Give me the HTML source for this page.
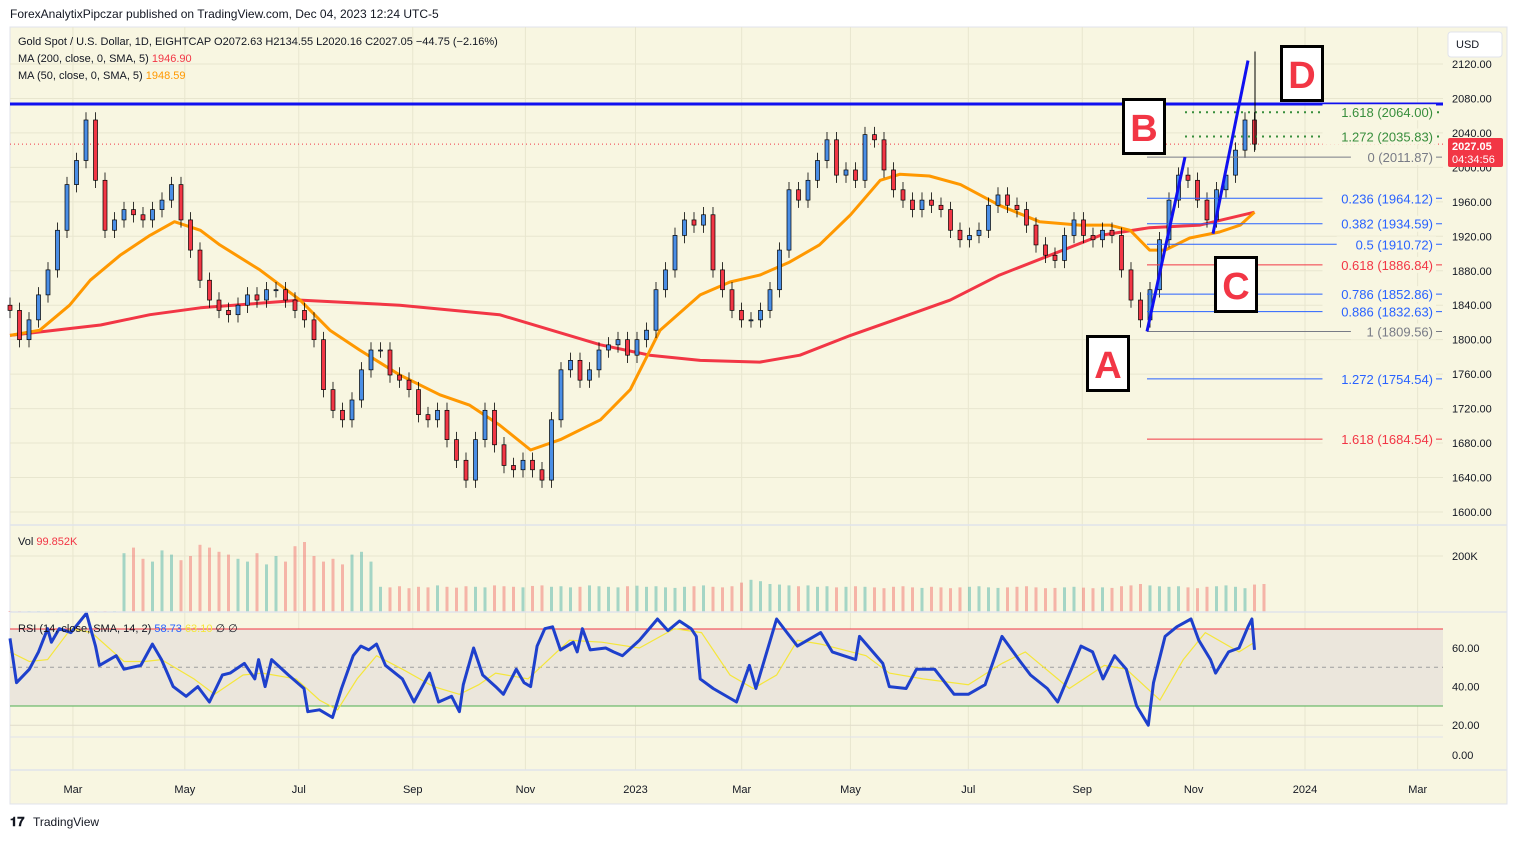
<!DOCTYPE html>
<html><head><meta charset="utf-8"><title>Gold Spot / U.S. Dollar chart</title>
<style>
html,body{margin:0;padding:0;background:#fff;}
body{width:1517px;height:839px;overflow:hidden;font-family:"Liberation Sans",Arial,sans-serif;}
svg text{font-family:"Liberation Sans",Arial,sans-serif;}
</style></head>
<body>
<svg id="chart" width="1517" height="839" viewBox="0 0 1517 839" xmlns="http://www.w3.org/2000/svg">
<text x="10" y="18" font-size="12" fill="#131722">ForexAnalytixPipczar published on TradingView.com, Dec 04, 2023 12:24 UTC-5</text>
<rect x="10" y="27" width="1497" height="777" fill="#f8f6e1" stroke="#e0e3eb"/>
<g id="grid"></g>
<rect x="10" y="629" width="1433" height="77" fill="#ebe6dc"/>
<g id="vol"></g>
<g id="main"></g>
<g id="rsi"></g>
<g id="axis"></g>
<line x1="10" y1="525" x2="1507" y2="525" stroke="#e0e3eb" stroke-width="1.5"/>
<line x1="10" y1="612" x2="1507" y2="612" stroke="#e0e3eb" stroke-width="1.5"/>
<line x1="10" y1="770" x2="1507" y2="770" stroke="#e0e3eb" stroke-width="1.5"/>
<g font-size="11" fill="#131722">
<text x="18" y="45">Gold Spot / U.S. Dollar, 1D, EIGHTCAP  O2072.63  H2134.55  L2020.16  C2027.05  −44.75 (−2.16%)</text>
<text x="18" y="62">MA (200, close, 0, SMA, 5) <tspan fill="#f23645">1946.90</tspan></text>
<text x="18" y="79">MA (50, close, 0, SMA, 5) <tspan fill="#ff9800">1948.59</tspan></text>
<text x="18" y="545">Vol <tspan fill="#f23645">99.852K</tspan></text>
<text x="18" y="632">RSI (14, close, SMA, 14, 2) <tspan fill="#2962ff">58.73</tspan> <tspan fill="#f5e63b">63.10</tspan> ∅ ∅</text>
</g>
<g>
<rect x="1448" y="32" width="54" height="25" rx="3" fill="#fff" stroke="#e0e3eb"/>
<text x="1456" y="48" font-size="11" fill="#131722">USD</text>
</g>
<g>
<text x="10" y="826" font-size="13" font-weight="bold" fill="#131722">𝟏𝟕</text>
<text x="33" y="826" font-size="12" fill="#131722">TradingView</text>
</g>
</svg>
<script>
const closes=[1834,1800,1823,1852,1881,1927,1980,2008,2055,1985,
1927,1939,1951,1945,1939,1951,1962,1980,1939,1904,
1869,1846,1834,1829,1840,1852,1846,1858,1858,1846,
1834,1823,1800,1742,1718,1707,1730,1765,1788,1788,
1759,1753,1742,1713,1707,1718,1684,1660,1637,1684,
1718,1678,1654,1649,1660,1649,1637,1707,1765,1776,
1753,1765,1788,1794,1800,1782,1800,1811,1858,1881,
1921,1939,1933,1945,1881,1858,1834,1823,1823,1834,
1858,1904,1974,1962,1985,2008,2032,1991,1997,1985,
2038,2032,1997,1974,1962,1951,1962,1956,1951,1927,
1916,1921,1927,1956,1968,1956,1951,1933,1910,1898,
1892,1921,1939,1921,1916,1927,1921,1881,1846,1823,
1858,1916,1962,1991,1985,1962,1939,1974,1991,2020,
2055,2027];
const volumes=[3,3,3,3,3,3,3,3,3,3,3,3,
210,230,190,180,220,205,185,200,240,230,215,205,190,180,210,170,200,180,235,250,200,180,190,170,205,215,180,
90,88,92,85,90,88,95,90,87,92,90,88,95,92,90,88,93,95,90,92,
88,90,95,92,90,88,92,94,90,92,88,86,90,92,95,90,88,92,105,115,
110,100,98,95,92,95,90,92,88,90,92,90,88,85,90,92,88,86,90,88,
85,88,90,92,88,86,88,90,92,88,85,86,88,90,87,85,88,86,92,95,
100,95,92,90,92,88,85,90,92,95,90,85,98,100];
const ma200Weeks=[0,7,10.8,14.7,22.4,30.1,37.8,45.6,49.4,53.3,57.9,61,64.9,68.7,72.6,76.4,80.3,84.2,88,91.9,96.1];
const ma200Values=[1805,1817,1829,1837,1846,1840,1829,1794,1782,1776,1774,1782,1805,1825,1846,1875,1898,1921,1930,1933,1948];
const ma50Weeks=[0,2.3,4.6,6.2,8.5,10.8,12.7,14.7,16.2,19.3,22.4,24.7,27,30.1,33.2,35.5,37.8,40.2,42.5,45.6,47.9,50.2,53.3,55.6,57.9,60.2,62.5,64.9,67.2,68.7,71,73.4,76.4,79.5,82.6,84.9,86.5,88,89.2,91.1,93.4,95,96.1];
const ma50Values=[1805,1811,1840,1869,1898,1921,1937,1927,1910,1881,1846,1811,1788,1759,1736,1724,1701,1672,1684,1707,1742,1811,1852,1867,1875,1890,1910,1945,1985,1992,1990,1980,1956,1937,1933,1933,1927,1904,1904,1918,1925,1933,1948];
const rsiWeeks=[0,.5,1.5,2.2,2.9,3.2,3.8,4.7,5.9,6.6,6.9,8.2,8.8,10.1,11,11.7,12.6,13.6,14.5,15.4,16.4,17,18.1,18.9,19.2,19.7,20.2,21.5,22.7,23,23.9,24.9,25.6,26.5,27.1,27.7,28.3,29,30.3,31.2,32,32.4,33.1,34.1,34.7,35,35.8,36.5,37.5,38.1,39.1,39.7,40.2,40.7,41.3,41.9,42.5,43.5,43.8,44.2,44.8,46,46.6,47.3,48.6,
50,50.8,51.7,52.6,53,53.3,54.3,56.1,57.1,57.6,59.2,60,60.8,62.6,63.5,65.3,65.6,67.4,67.9,69.2,70,71.4,72.9,74,75.3,76.6,77.9,78.8,80.1,80.9,82.7,83.6,84.4,85.3,86.2,87,87.9,88.3,89.2,90.1,91.2,91.8,92.7,93.1,94.1,94.9,95.6,95.9,96.1];
const rsiValues=[65,42,49,58,70,63,70,68,78,61,51,56,49,51,62,54,40,35,40,32,46,47,52,44,54,40,54,46,39,27,28,24,39,56,61,59,62,51,44,32,42,47,32,35,27,41,60,46,40,36,49,42,40,61,70,71,59,63,58,70,59,60,58,56,64,
75,69,74,70,66,44,39,32,51,39,75,68,61,68,58,54,66,52,40,39,49,49,36,36,41,66,54,46,39,32,61,58,44,56,49,30,20,42,66,71,75,64,54,47,58,60,71,75,59];
const sigWeeks=[0,1.5,2.9,4.7,6.3,8.8,10.4,11.7,14.2,15.8,18,19.5,22.1,23.9,25.3,26.8,28.3,30.3,32.7,34.7,36.2,37.5,40,41.6,43.2,45.7,48.6,51.3,53.4,55.6,57.4,59.2,60.8,62.6,66.1,67.9,70.5,74,76.6,78.4,81.8,84.5,86.2,88.8,90.6,92.3,94.9,96.1];
const sigValues=[58,53,54,70,68,53,53,54,44,36,46,47,44,33,28,44,56,49,40,36,41,47,44,54,64,63,60,70,68,46,39,46,64,62,56,47,44,41,52,58,39,51,49,33,54,68,58,63];
const priceTicks=[2120,2080,2040,2000,1960,1920,1880,1840,1800,1760,1720,1680,1640,1600];
const rsiTicks=[60,40,20];
const monthLabels=["Mar","May","Jul","Sep","Nov","2023","Mar","May","Jul","Sep","Nov","2024","Mar"];
const monthWeeks=[4.86,13.5,22.3,31.1,39.8,48.3,56.5,64.9,74,82.8,91.4,100,108.7];
const fibRatios=["1.618","1.272","0","0.236","0.382","0.5","0.618","0.786","0.886","1","1.272","1.618"];
const fibPrices=[2064.00,2035.83,2011.87,1964.12,1934.59,1910.72,1886.84,1852.86,1832.63,1809.56,1754.54,1684.54];
const fibKinds=["ext","ext","base","b","b","b","r","b","b","base","b","r"];
const resistance=2073.5, lastPrice=2027.05;

const NS="http://www.w3.org/2000/svg";
const xT=t=>10+t*12.95;
const yP=p=>64+(2120-p)*0.8615;
const yR=v=>648-(v-60)*1.93;
const yV=k=>612-k*0.28;
const candleT=i=>i*96.1/(closes.length-1);
function mk(tag,attrs,parent){const e=document.createElementNS(NS,tag);for(const k in attrs)e.setAttribute(k,attrs[k]);parent.appendChild(e);return e;}
const grid=document.getElementById('grid'),main=document.getElementById('main'),vol=document.getElementById('vol'),rsi=document.getElementById('rsi'),axis=document.getElementById('axis'),svg=document.getElementById('chart');

priceTicks.forEach(p=>{
 const l=mk('line',{x1:10,x2:1443,y1:yP(p),y2:yP(p),stroke:'#e8e6cf','stroke-width':1},grid);
 
 
 const t=mk('text',{x:1452,y:yP(p)+4,'font-size':11,fill:'#131722'},axis);t.textContent=p.toFixed(2);
 
 
});
monthLabels.forEach((m,i)=>{
 const x=xT(monthWeeks[i]);
 const l=mk('line',{x1:x,x2:x,y1:27,y2:770,stroke:'#e8e6cf','stroke-width':1},grid);
 
 
 const t=mk('text',{x:x,y:793,'font-size':11,fill:'#131722','text-anchor':'middle'},axis);t.textContent=m;
 
 
});
const v200=mk('text',{x:1452,y:yV(200)+4,'font-size':11,fill:'#131722'},axis);v200.textContent='200K';


mk('line',{x1:10,x2:1443,y1:yV(200),y2:yV(200),stroke:'#e8e6cf'},grid);
rsiTicks.forEach(v=>{
 mk('line',{x1:10,x2:1443,y1:yR(v),y2:yR(v),stroke:'#e0dccb'},grid);
 const t=mk('text',{x:1452,y:yR(v)+4,'font-size':11,fill:'#131722'},axis);t.textContent=v.toFixed(2);
 
 
});
const z=mk('text',{x:1452,y:759,'font-size':11,fill:'#131722'},axis);z.textContent='0.00';


mk('line',{x1:10,x2:1443,y1:737,y2:737,stroke:'#e0e3eb'},grid);

// volume bars
volumes.forEach((k,i)=>{
 const x=xT(candleT(i));const o=i?closes[i-1]:1840;const up=closes[i]>=o;
 const r=mk('rect',{x:x-1.5,y:yV(k),width:3,height:612-yV(k),fill:up?'rgba(38,166,154,0.4)':'rgba(239,83,80,0.4)'},vol);
 
 
});

// horizontal resistance + last price line
const res=mk('line',{x1:10,x2:1443,y1:yP(resistance),y2:yP(resistance),stroke:'#1010f0','stroke-width':3},main);


const lp=mk('line',{x1:10,x2:1443,y1:yP(lastPrice),y2:yP(lastPrice),stroke:'#f23645','stroke-width':1,'stroke-dasharray':'1 3'},main);



// moving averages
function path(ws,vs,yf){return ws.map((w,i)=>(i?'L':'M')+xT(w).toFixed(1)+','+yf(vs[i]).toFixed(1)).join(' ');}
const m200=mk('path',{d:path(ma200Weeks,ma200Values,yP),fill:'none',stroke:'#f23645','stroke-width':3,'stroke-linejoin':'round'},main);


const m50=mk('path',{d:path(ma50Weeks,ma50Values,yP),fill:'none',stroke:'#ff9800','stroke-width':3,'stroke-linejoin':'round'},main);



// candles
closes.forEach((c,i)=>{
 const x=xT(candleT(i));const o=i?closes[i-1]:1840;const up=c>=o;
 const hi=Math.max(o,c)+9,lo=Math.min(o,c)-9;
 const g=mk('g',{},main);
 
 
 mk('line',{x1:x,x2:x,y1:yP(hi),y2:yP(lo),stroke:'#000','stroke-width':0.8},g);
 const top=yP(Math.max(o,c)),bot=yP(Math.min(o,c));
 mk('rect',{x:x-2,y:top,width:4,height:Math.max(1,bot-top),fill:up?'#4a8ee6':'#f23645',stroke:'#000','stroke-width':0.7},g);
});

// fib levels
const fibCol={ext:'#388e3c',base:'#787b86',b:'#2962ff',r:'#f23645'};
fibPrices.forEach((p,i)=>{
 const y=yP(p),k=fibKinds[i];
 const x1=k==='ext'?1185:1147;
 const g=mk('g',{},main);
 
 
 mk('line',{x1:x1,x2:1442,y1:y,y2:y,stroke:fibCol[k],'stroke-width':k==='ext'?2:1,'stroke-dasharray':k==='ext'?'2 5':'none'},g);
 const label=fibRatios[i]+' ('+p.toFixed(2)+')';
 const t=mk('text',{x:1433,y:y+5,'font-size':13,fill:fibCol[k],'text-anchor':'end'},g);t.textContent=label;
 const w=label.length*7.1+4;
 const bg=mk('rect',{x:1433-w,y:y-8,width:w+3,height:16,fill:'#f8f6e1'},g);
 g.insertBefore(bg,t);
});

// trendlines
[[[1147,1809.56],[1185,2012]],[[1213,1923],[1248,2124]]].forEach(seg=>{
 const l=mk('line',{x1:seg[0][0],y1:yP(seg[0][1]),x2:seg[1][0],y2:yP(seg[1][1]),stroke:'#1010f0','stroke-width':3},main);
 
 
});
mk('line',{x1:1255,x2:1255,y1:yP(2134.55),y2:yP(2020),stroke:'#000','stroke-width':1},main);

// ABCD labels
[['A',1086,335],['B',1122,98],['C',1214,256],['D',1280,45]].forEach(a=>{
 const g=mk('g',{},main);
 
 
 mk('rect',{x:a[1]+1.5,y:a[2]+1.5,width:41,height:54,fill:'#fff',stroke:'#000','stroke-width':3},g);
 const t=mk('text',{x:a[1]+22,y:a[2]+43,'font-size':38,'font-weight':'bold',fill:'#f23645','text-anchor':'middle'},g);t.textContent=a[0];
});

// RSI
const up=mk('line',{x1:10,x2:1443,y1:629,y2:629,stroke:'#f23645','stroke-width':1},rsi);


const dn=mk('line',{x1:10,x2:1443,y1:706,y2:706,stroke:'#4caf50','stroke-width':1},rsi);


mk('line',{x1:10,x2:1443,y1:yR(50),y2:yR(50),stroke:'#9e9e9e','stroke-width':1,'stroke-dasharray':'4 4'},rsi);
const sg=mk('path',{d:path(sigWeeks,sigValues,yR),fill:'none',stroke:'#f5e63b','stroke-width':1.2},rsi);


const rl=mk('path',{d:path(rsiWeeks,rsiValues,yR),fill:'none',stroke:'#1e40cc','stroke-width':3,'stroke-linejoin':'round'},rsi);



// last price label
const lg=mk('g',{},svg);


mk('rect',{x:1448,y:138,width:55,height:29,rx:2,fill:'#f23645'},lg);
const t1=mk('text',{x:1452,y:150,'font-size':11,'font-weight':'bold',fill:'#fff'},lg);t1.textContent='2027.05';
const t2=mk('text',{x:1452,y:163,'font-size':11,fill:'#fff'},lg);t2.textContent='04:34:56';
</script>
</body></html>
